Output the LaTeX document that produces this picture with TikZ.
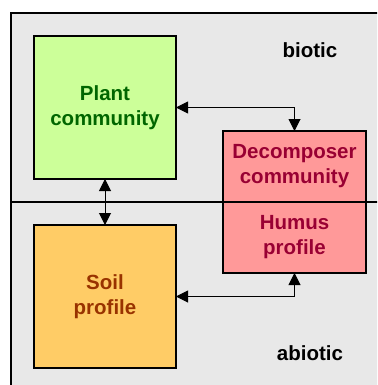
\documentclass[tikz,border=0pt]{standalone}
\usepackage{fontspec}
\setmainfont{Liberation Sans}
\usetikzlibrary{arrows.meta}
\definecolor{bggray}{HTML}{E8E8E8}
\definecolor{plantfill}{HTML}{CCFF99}
\definecolor{planttext}{HTML}{006600}
\definecolor{decfill}{HTML}{FF9999}
\definecolor{dectext}{HTML}{990033}
\definecolor{soilfill}{HTML}{FFCC66}
\definecolor{soiltext}{HTML}{993300}
\tikzset{
  box/.style={draw=black, line width=1.5pt, minimum width=142pt, minimum height=143pt, inner sep=0pt, outer sep=0pt},
  lbl/.style={font=\fontsize{20.5}{25}\selectfont\bfseries, align=center, inner sep=0pt},
  conn/.style={line width=1pt, {Triangle[length=12pt,width=12pt]}-{Triangle[length=12pt,width=12pt]}},
}
\begin{document}
\begin{tikzpicture}[x=1pt,y=-1pt]
\useasboundingbox (0,0) rectangle (377,385);
\clip (0,0) rectangle (377,385);
\fill[white] (0,0) rectangle (377,385);
\draw[line width=1.5pt, fill=bggray] (11,13) rectangle (390,400);
\node[box, fill=plantfill] (plant) at (105,107.5) {};
\node[lbl, text=planttext] (plantt) at (plant.center) {Plant\\community};
\node[box, fill=soilfill] (soil) at (105,296.5) {};
\node[lbl, text=soiltext] (soilt) at (soil.center) {Soil\\profile};
\node[box, fill=decfill, minimum width=143pt, minimum height=142pt] (decomp) at (294.5,202) {};
\node[lbl, text=dectext] (dect) at (294.5,166.5) {Decomposer\\community};
\node[lbl, text=dectext] (humt) at (294.5,237.5) {Humus\\profile};
\draw[line width=1.8pt] (11,202) -- (390,202);
\node[lbl, text=black] (biotic) at (310,50) {biotic};
\node[lbl, text=black] (abiotic) at (310,353) {abiotic};
\draw[conn] (plant.east) -| (decomp.north);
\draw[conn] (soil.east) -| (decomp.south);
\draw[conn] (plant.south) -- (soil.north);
\end{tikzpicture}
\end{document}
